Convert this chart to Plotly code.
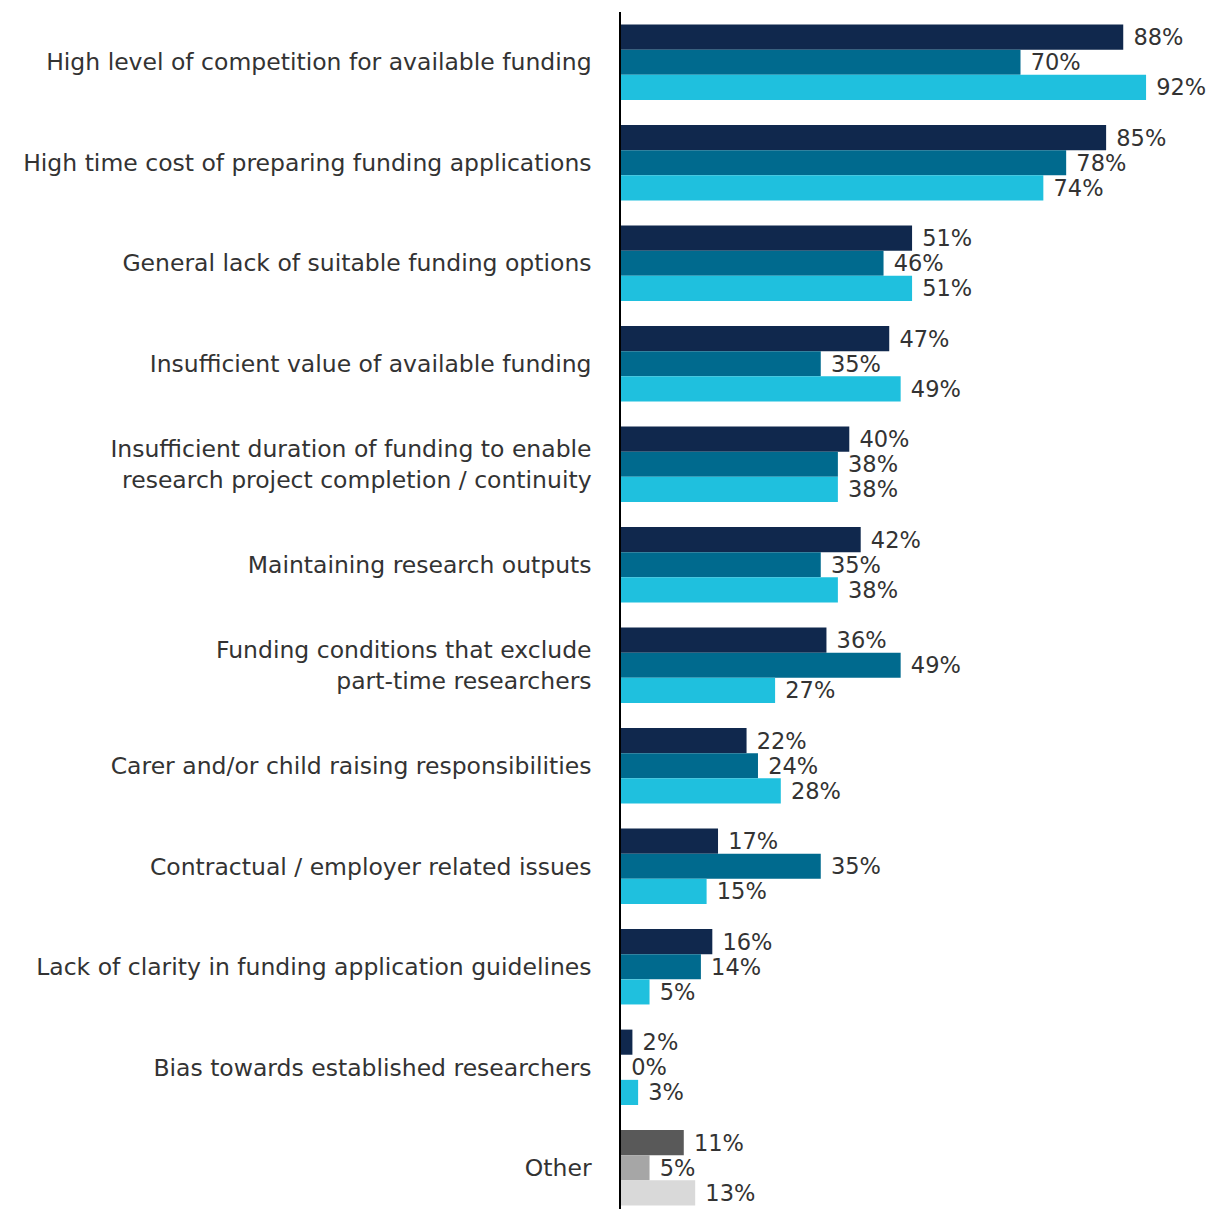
import plotly.graph_objects as go

categories = [
    "High level of competition for available funding",
    "High time cost of preparing funding applications",
    "General lack of suitable funding options",
    "Insufficient value of available funding",
    "Insufficient duration of funding to enable<br>research project completion / continuity",
    "Maintaining research outputs",
    "Funding conditions that exclude<br>part-time researchers",
    "Carer and/or child raising responsibilities",
    "Contractual / employer related issues",
    "Lack of clarity in funding application guidelines",
    "Bias towards established researchers",
    "Other",
]

series_a = [88, 85, 51, 47, 40, 42, 36, 22, 17, 16, 2, 11]
series_b = [70, 78, 46, 35, 38, 35, 49, 24, 35, 14, 0, 5]
series_c = [92, 74, 51, 49, 38, 38, 27, 28, 15, 5, 3, 13]

# main colour per series, with a grey shade used for the "Other" row
colors_a = ["#10284D"] * 11 + ["#595959"]
colors_b = ["#006A8E"] * 11 + ["#A6A6A6"]
colors_c = ["#1FC0DE"] * 11 + ["#D9D9D9"]

text_color = "#333333"
font_family = "DejaVu Sans"
label_size = 23.5
value_size = 22.5

fig = go.Figure()
for vals, cols in [(series_a, colors_a), (series_b, colors_b), (series_c, colors_c)]:
    fig.add_trace(go.Bar(
        y=categories,
        x=vals,
        orientation="h",
        marker=dict(color=cols, line=dict(width=0)),
        text=[f" {v}%" for v in vals],
        textposition="outside",
        constraintext="none",
        textfont=dict(family=font_family, size=value_size, color=text_color),
        cliponaxis=False,
        showlegend=False,
    ))

fig.update_layout(
    width=1206,
    height=1209,
    barmode="group",
    bargap=0.25,
    bargroupgap=0,
    plot_bgcolor="white",
    paper_bgcolor="white",
    margin=dict(l=621, r=0, t=12, b=0),
    font=dict(family=font_family, color=text_color, size=label_size),
)
fig.update_xaxes(
    range=[0, 102.5],
    showgrid=False,
    zeroline=False,
    showticklabels=False,
    showline=False,
)
fig.update_yaxes(
    categoryorder="array",
    categoryarray=categories,
    range=[11.41, -0.5],
    showgrid=False,
    showline=True,
    linecolor="black",
    linewidth=1.5,
    ticks="",
    ticklabelstandoff=23,
    tickfont=dict(family=font_family, size=label_size, color=text_color),
    automargin=False,
)

fig.write_html("out.html")
